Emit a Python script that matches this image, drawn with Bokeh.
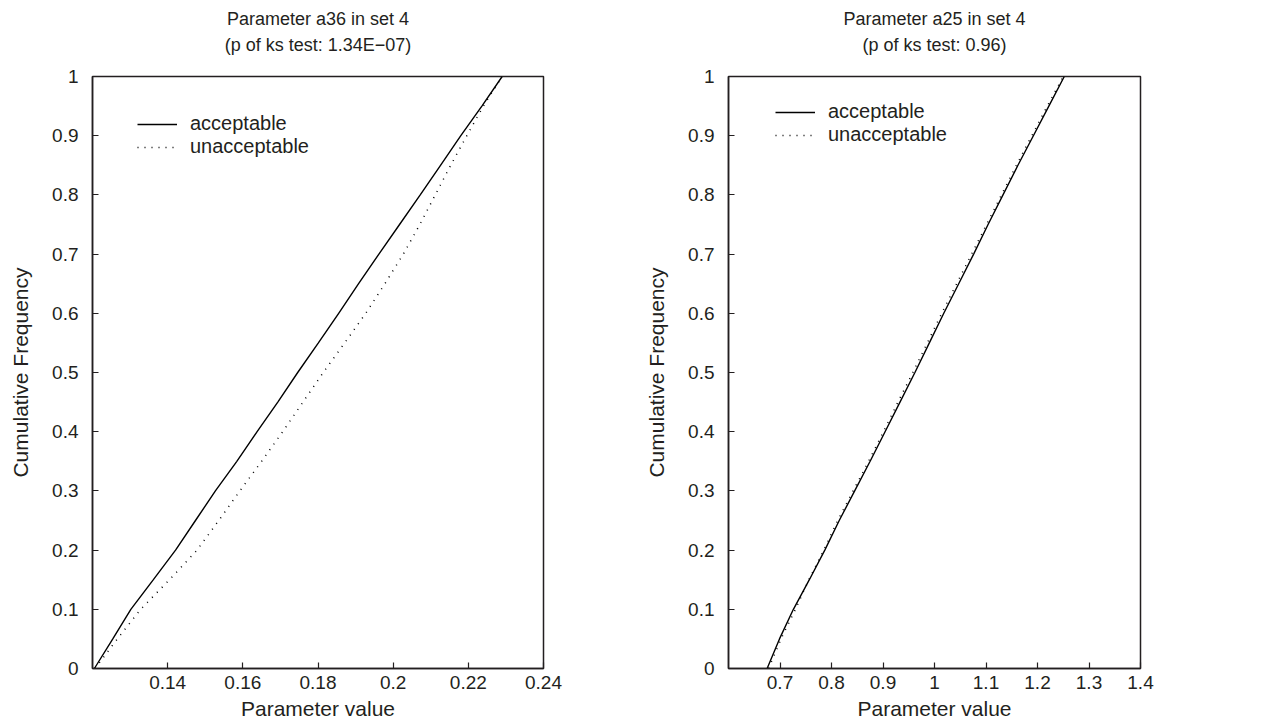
from bokeh.plotting import figure
from bokeh.layouts import row
from bokeh.models import (Range1d, FixedTicker, CustomJSTickFormatter, Legend,
                          LegendItem, Title, LinearAxis)
from bokeh.embed import file_html
from bokeh.resources import INLINE

# ---------------- data ----------------
cum_freq = [0, 0.05, 0.1, 0.15, 0.2, 0.25, 0.3, 0.35, 0.4, 0.45, 0.5,
            0.55, 0.6, 0.65, 0.7, 0.75, 0.8, 0.85, 0.9, 0.95, 1.0]

a36_acceptable = [0.1205, 0.1254, 0.1302, 0.1362, 0.1421, 0.1474, 0.1527,
                  0.1584, 0.1638, 0.1693, 0.1746, 0.1801, 0.1855, 0.1908,
                  0.1962, 0.2017, 0.2072, 0.2126, 0.2180, 0.2236, 0.2290]
a36_unacceptable = [0.1207, 0.1266, 0.1328, 0.1405, 0.1478, 0.1536, 0.1592,
                    0.1650, 0.1706, 0.1760, 0.1814, 0.1871, 0.1927, 0.1978,
                    0.2027, 0.2071, 0.2112, 0.2153, 0.2196, 0.2240, 0.2290]

a25_acceptable = [0.675, 0.699, 0.726, 0.757, 0.787, 0.815, 0.845, 0.875,
                  0.904, 0.933, 0.962, 0.990, 1.018, 1.047, 1.076, 1.104,
                  1.133, 1.162, 1.192, 1.222, 1.252]
a25_unacceptable = [0.678, 0.702, 0.730, 0.756, 0.785, 0.812, 0.842, 0.872,
                    0.901, 0.929, 0.958, 0.986, 1.014, 1.043, 1.072, 1.101,
                    1.130, 1.159, 1.189, 1.219, 1.250]

y_ticks = [0, 0.1, 0.2, 0.3, 0.4, 0.5, 0.6, 0.7, 0.8, 0.9, 1.0]
a36_x_ticks = [0.14, 0.16, 0.18, 0.2, 0.22, 0.24]
a25_x_ticks = [0.7, 0.8, 0.9, 1.0, 1.1, 1.2, 1.3, 1.4]

titles_a36 = ["Parameter a36 in set 4", "(p of ks test: 1.34E\u221207)"]
titles_a25 = ["Parameter a25 in set 4", "(p of ks test: 0.96)"]

FONT = "Liberation Sans"
INK = "#231f20"
FRAME_H = 592


def make_panel(xr, xticks, acc, unacc, titles, frame_w, bl, br, leg_loc):
    p = figure(frame_width=frame_w, frame_height=FRAME_H,
               x_range=Range1d(*xr), y_range=Range1d(0, 1),
               output_backend="svg", toolbar_location=None,
               min_border_left=bl, min_border_right=br,
               min_border_top=76, min_border_bottom=60,
               background_fill_color="white", border_fill_color="white")
    p.outline_line_color = INK
    p.outline_line_width = 1.5
    p.xgrid.visible = False
    p.ygrid.visible = False

    xb = p.xaxis[0]
    yl = p.yaxis[0]

    fmt = CustomJSTickFormatter(code="return String(Number(tick.toFixed(2)));")
    for ax, ticks in ((xb, xticks), (yl, y_ticks)):
        ax.ticker = FixedTicker(ticks=ticks)
        ax.formatter = fmt
        ax.major_tick_in = 6
        ax.major_tick_out = 0
        ax.minor_tick_in = 0
        ax.minor_tick_out = 0
        ax.axis_line_color = INK
        ax.axis_line_width = 1.5
        ax.major_tick_line_color = INK
        ax.major_tick_line_width = 1.2
        ax.major_label_text_font = FONT
        ax.major_label_text_font_size = "19px"
        ax.major_label_text_color = INK
        ax.axis_label_text_font = FONT
        ax.axis_label_text_font_size = "21px"
        ax.axis_label_text_font_style = "normal"
        ax.axis_label_text_color = INK
    xb.axis_label = "Parameter value"
    yl.axis_label = "Cumulative Frequency"
    xb.major_label_standoff = 7
    xb.axis_label_standoff = 5
    yl.major_label_standoff = 14
    yl.axis_label_standoff = 17

    # second title line: label of a bare axis above the frame
    sub = LinearAxis(ticker=FixedTicker(ticks=[]), axis_label=titles[1],
                     axis_line_color=None, major_tick_in=0, major_tick_out=0,
                     minor_tick_in=0, minor_tick_out=0,
                     major_label_standoff=0, axis_label_standoff=22,
                     major_label_text_font_size="0px",
                     axis_label_text_font=FONT, axis_label_text_font_size="18px",
                     axis_label_text_font_style="normal",
                     axis_label_text_color=INK)
    p.add_layout(sub, "above")
    # first title line
    p.add_layout(Title(text=titles[0], align="center", text_font=FONT,
                       text_font_size="18px", text_font_style="normal",
                       text_color=INK, standoff=6), "above")

    r1 = p.line(acc, cum_freq, line_color="black", line_width=1.4)
    r2 = p.line(unacc, cum_freq, line_color="black", line_width=1.5,
                line_dash="1 6")

    leg = Legend(items=[LegendItem(label="acceptable", renderers=[r1]),
                        LegendItem(label="unacceptable", renderers=[r2])],
                 location=leg_loc, border_line_color=None,
                 background_fill_alpha=0, padding=0, spacing=0, margin=0,
                 glyph_width=40, glyph_height=22, label_height=22,
                 label_standoff=13, label_text_font=FONT,
                 label_text_font_size="20px", label_text_color=INK)
    p.add_layout(leg)
    return p


p1 = make_panel((0.12, 0.24), a36_x_ticks, a36_acceptable, a36_unacceptable,
                titles_a36, 451, 92, 97, (45, 510))
p2 = make_panel((0.6, 1.4), a25_x_ticks, a25_acceptable, a25_unacceptable,
                titles_a25, 412, 88, 138, (47, 522))

layout = row(p1, p2, spacing=0)
open("out.html", "w").write(file_html(layout, INLINE))
